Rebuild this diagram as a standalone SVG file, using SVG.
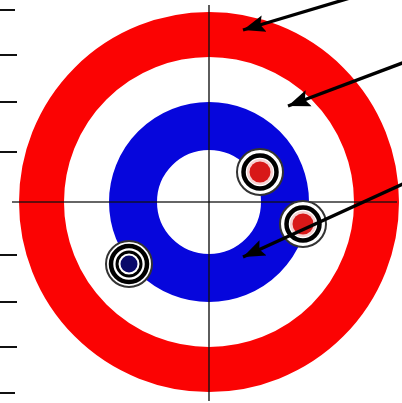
<svg xmlns="http://www.w3.org/2000/svg" width="402" height="403" viewBox="0 0 402 403">
<defs>
<style>
.tick{stroke:#111;stroke-width:2}
.axis{stroke:#111;stroke-width:1.6;opacity:0.85}
.arrow{stroke:#000;stroke-width:3.3;fill:none}
.halo{fill:#fff;stroke:#333;stroke-width:2}
.thick{fill:#fff;stroke:#000;stroke-width:4.5}
</style>
<marker id="ah" markerUnits="userSpaceOnUse" markerWidth="24" markerHeight="20" viewBox="0 0 24 20" refX="22" refY="10" orient="auto">
<path d="M0,1.5 L22,10 L0,18.5 L4,10 Z" fill="#000"/>
</marker>
</defs>
<rect width="402" height="403" fill="#fff"/>
<g id="ticks">
<line class="tick" x1="0" y1="10" x2="15" y2="10"/>
<line class="tick" x1="0" y1="55" x2="17" y2="55"/>
<line class="tick" x1="0" y1="102" x2="17" y2="102"/>
<line class="tick" x1="0" y1="152" x2="17" y2="152"/>
<line class="tick" x1="0" y1="255" x2="17" y2="255"/>
<line class="tick" x1="0" y1="302" x2="17" y2="302"/>
<line class="tick" x1="0" y1="347" x2="17" y2="347"/>
<line class="tick" x1="0" y1="393" x2="15" y2="393"/>
</g>
<g id="house">
<circle cx="209" cy="202" r="167.5" fill="none" stroke="#fb0303" stroke-width="45"/>
<circle cx="209" cy="202" r="76" fill="none" stroke="#0606dc" stroke-width="48"/>
</g>
<g id="axes">
<line class="axis" x1="209" y1="5" x2="209" y2="401"/>
<line class="axis" x1="12" y1="202" x2="397" y2="202"/>
</g>
<g id="stone-red-1">
<circle class="halo" cx="260" cy="172" r="23"/>
<circle class="thick" cx="260" cy="172" r="16.5"/>
<circle cx="260" cy="172" r="13" fill="#f6d2d2"/>
<circle cx="260" cy="172" r="10.5" fill="#d81818"/>
</g>
<g id="stone-red-2">
<circle class="halo" cx="303" cy="224" r="23"/>
<circle class="thick" cx="303" cy="224" r="16.5"/>
<circle cx="303" cy="224" r="13" fill="#f6d2d2"/>
<circle cx="303" cy="224" r="10.5" fill="#d81818"/>
</g>
<g id="stone-blue">
<circle class="halo" cx="129" cy="264" r="23"/>
<circle class="thick" cx="129" cy="264" r="18"/>
<circle cx="129" cy="264" r="12" fill="#fff" stroke="#000" stroke-width="3"/>
<circle cx="129" cy="264" r="8.5" fill="#0a0a6a"/>
</g>
<g id="connectors">
<line class="arrow" x1="350" y1="-2" x2="243" y2="30" marker-end="url(#ah)"/>
<line class="arrow" x1="405" y1="62" x2="288" y2="106" marker-end="url(#ah)"/>
<line class="arrow" x1="405" y1="183" x2="243" y2="257" marker-end="url(#ah)"/>
</g>
</svg>
